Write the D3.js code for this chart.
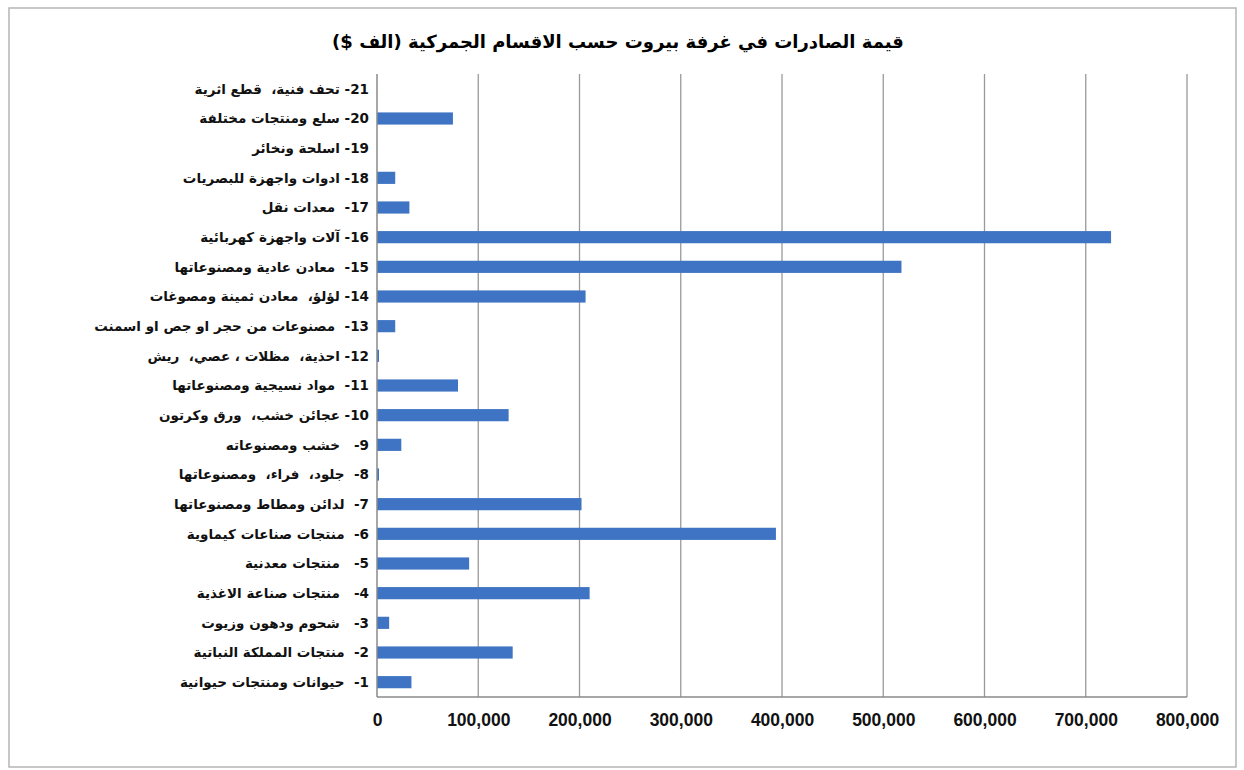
<!DOCTYPE html>
<html>
<head>
<meta charset="utf-8">
<script src="https://cdn.jsdelivr.net/npm/d3@7"></script>
<style>
  body { margin: 0; background: #fff; }
  .label { font-family: 'DejaVu Sans', sans-serif; font-weight: bold; font-size: 13.5px; fill: #111; white-space: pre; }
  .tick text { font-family: 'Liberation Sans', Arial, sans-serif; font-weight: bold; font-size: 17.5px; fill: #111; }
</style>
</head>
<body>
<svg id="chart" width="1244" height="770"></svg>
<script>
'use strict'

const title = 'قيمة الصادرات في غرفة بيروت حسب الاقسام الجمركية (الف $)'

// top to bottom, as drawn
const categories = [
  '21- تحف فنية،  قطع اثرية',
  '20- سلع ومنتجات مختلفة',
  '19- اسلحة ونخائر',
  '18- ادوات واجهزة للبصريات',
  '17-  معدات نقل',
  '16- آلات واجهزة كهربائية',
  '15-  معادن عادية ومصنوعاتها',
  '14- لؤلؤ،  معادن ثمينة ومصوغات',
  '13-  مصنوعات من حجر او جص او اسمنت',
  '12- احذية،  مظلات ، عصي،  ريش',
  '11-  مواد نسيجية ومصنوعاتها',
  '10- عجائن خشب،  ورق وكرتون',
  '9-   خشب ومصنوعاته',
  '8-  جلود،  فراء،  ومصنوعاتها',
  '7-  لدائن ومطاط ومصنوعاتها',
  '6-  منتجات صناعات كيماوية',
  '5-   منتجات معدنية',
  '4-   منتجات صناعة الاغذية',
  '3-   شحوم ودهون وزيوت',
  '2-  منتجات المملكة النباتية',
  '1-  حيوانات ومنتجات حيوانية'
]
const values = [0, 75000, 0, 18000, 32000, 725000, 518000, 206000, 18000, 2000, 80000,
  130000, 24000, 2000, 202000, 394000, 91000, 210000, 12000, 134000, 34000]
const xTicks = [0, 100000, 200000, 300000, 400000, 500000, 600000, 700000, 800000]

const svg = d3.select('#chart')

// outer frame
svg.append('rect')
  .attr('x', 9).attr('y', 8)
  .attr('width', 1227).attr('height', 759)
  .attr('fill', 'none')
  .attr('stroke', '#b5b5b5')
  .attr('stroke-width', 1.5)

svg.append('text')
  .attr('x', 618).attr('y', 48)
  .attr('text-anchor', 'middle')
  .attr('direction', 'rtl')
  .style('font-family', "'DejaVu Sans', sans-serif")
  .style('font-weight', 'bold')
  .style('font-size', '18px')
  .text(title)

const plotLeft = 377, plotRight = 1187, plotTop = 74, plotBottom = 697

const x = d3.scaleLinear().domain([0, 800000]).range([plotLeft, plotRight])
const y = d3.scaleBand().domain(categories).range([plotTop, plotBottom])
const barH = y.bandwidth() * 0.41

// gridlines
svg.append('g')
  .selectAll('line')
  .data(xTicks.slice(1))
  .join('line')
  .attr('x1', d => x(d)).attr('x2', d => x(d))
  .attr('y1', plotTop).attr('y2', plotBottom)
  .attr('stroke', '#9a9a9a')
  .attr('stroke-width', 1.3)

svg.append('g')
  .selectAll('rect')
  .data(values)
  .join('rect')
  .attr('x', plotLeft)
  .attr('y', (d, i) => y(categories[i]) + (y.bandwidth() - barH) / 2)
  .attr('width', d => x(d) - plotLeft)
  .attr('height', barH)
  .attr('fill', '#3f73c3')

// axis lines
svg.append('line')
  .attr('x1', plotLeft).attr('x2', plotLeft).attr('y1', plotTop).attr('y2', plotBottom)
  .attr('stroke', '#8a8a8a').attr('stroke-width', 1.5)
svg.append('line')
  .attr('x1', plotLeft).attr('x2', plotRight).attr('y1', plotBottom).attr('y2', plotBottom)
  .attr('stroke', '#8a8a8a').attr('stroke-width', 1.5)

const xAxis = d3.axisBottom(x)
  .tickValues(xTicks)
  .tickFormat(d3.format(','))
  .tickSize(0)
  .tickPadding(17)
svg.append('g')
  .attr('transform', 'translate(0,' + plotBottom + ')')
  .call(xAxis)
  .call(g => g.select('.domain').remove())

svg.append('g')
  .selectAll('text')
  .data(categories)
  .join('text')
  .attr('class', 'label')
  .attr('x', plotLeft - 8)
  .attr('y', d => y(d) + y.bandwidth() / 2)
  .attr('dy', '0.35em')
  .attr('direction', 'rtl')
  .attr('text-anchor', 'start')
  .text(d => d)
</script>
</body>
</html>
